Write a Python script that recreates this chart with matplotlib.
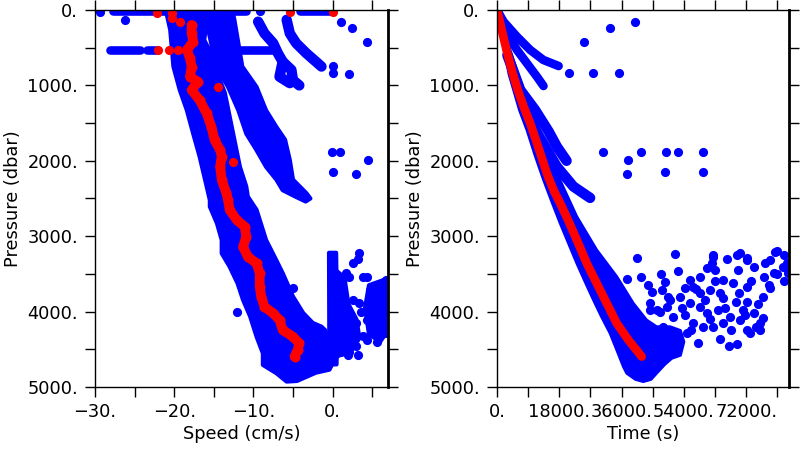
import matplotlib
matplotlib.use('Agg')
import matplotlib.pyplot as plt
from matplotlib.ticker import MultipleLocator, FuncFormatter

plt.rcParams['font.family'] = ['DejaVu Sans']
plt.rcParams['axes.unicode_minus'] = True

BLUE = '#0000ff'
RED = '#ff0000'

# ---------------- Left panel: speed vs pressure ----------------
# dense main band outline (speed cm/s, pressure dbar)
main_band_speed = [-21.0, -20.5, -20.1, -19.3, -18.4, -17.6, -16.8, -15.9, -15.5, -15.5, -14.6, -14.0,
                   -14.0, -13.0, -12.0, -11.3, -10.4, -9.6, -8.8, -8.8, -7.1, -5.8, -4.5, -2.1, -0.4,
                   0.25, -0.9, -1.4, -2.5, -3.7, -5.0, -6.3, -7.1, -8.4, -9.6, -10.7, -10.9, -11.7,
                   -12.4, -13.0, -13.6, -14.7, -15.2, -16.2, -15.8]
main_band_pres = [30, 265, 750, 1060, 1330, 1640, 1940, 2340, 2520, 2608, 2829, 3050,
                  3227, 3404, 3625, 3846, 4067, 4332, 4553, 4707, 4817, 4928, 4920, 4810, 4770,
                  4640, 4250, 4200, 4150, 4020, 3800, 3490, 3320, 3050, 2650, 2475, 2340, 2080,
                  1720, 1410, 1100, 800, 600, 400, 30]
# second (shallower) band outline
band2_speed = [-15.6, -15.6, -14.7, -13.2, -11.9, -10.9, -9.6, -8.4, -7.1, -6.3, -4.6, -3.4, -2.8,
               -3.3, -5.0, -5.4, -6.0, -7.1, -8.4, -9.6, -11.4, -11.9, -12.4, -12.6]
band2_pres = [30, 310, 750, 1020, 1330, 1640, 1860, 2080, 2250, 2390, 2480, 2540, 2500,
              2430, 2250, 1990, 1720, 1550, 1330, 1020, 750, 440, 130, 30]
# third and fourth thin bands
band3_speed = [-9.4, -8.6, -7.5, -6.9, -6.3, -5.2, -5.0, -4.2]
band3_pres = [155, 310, 440, 575, 685, 795, 930, 1000]
band3b_speed = [-6.3, -6.7, -5.4]
band3b_pres = [685, 885, 970]
band4_speed = [-5.8, -5.4, -4.6, -3.3, -2.1, -1.4]
band4_pres = [130, 310, 440, 575, 685, 750]
# near-surface rows
top_row_speed = [-27.7, -10.9]
top_row2_speed = [-4.1, 0.0]
top_row_pres = 20
mid_row_segments = [(-28.1, -24.3), (-23.4, -22.2), (-16.8, -7.5)]
mid_row_pres = 530
# deep near-zero strip and the bottom-right clusters
strip_speed = [-0.45, 0.45, 0.6, 0.5, -0.4]
strip_pres = [3220, 3220, 4300, 4700, 4700]
cluster1_speed = [0.4, 1.5, 2.0, 3.0, 3.4, 2.5, 0.5]
cluster1_pres = [3450, 3550, 3900, 4100, 4350, 4500, 4600]
cluster2_speed = [4.6, 7.0, 7.0, 6.0, 4.6, 4.1]
cluster2_pres = [3650, 3560, 4250, 4400, 4300, 3950]
# scattered blue points
left_pts_speed = [-29.4, -26.2, -9.2, 1.1, 2.4, 4.3, 0.0, 0.0, 2.1, -0.1, 1.0, 4.5, 0.0, 3.0,
                  -5.0, -12.1,
                  0.0, 0.3, 0.9, 1.2, 0.5, 1.3, 2.1, 1.7, 2.6, 3.4, 3.2, 3.8, 3.4, 2.6, 4.7, 4.3,
                  5.9, 6.8, 6.5, 5.5, 6.3, 4.3, 3.0, 2.1, 2.6, 3.8, 5.0, 6.3, 6.6, 2.1, 3.2, 0.9,
                  1.1, 1.9, 5.2, 6.0, 6.8, 4.8, 5.6, 6.9, 4.6, 5.2, 6.1, 4.4, 3.6, 2.9, 1.6]
left_pts_pres = [30, 130, 20, 155, 243, 420, 738, 830, 849, 1883, 1883, 1990, 2150, 2170,
                 3690, 4010,
                 3600, 3700, 3540, 3600, 3850, 3760, 3540, 3490, 3360, 3225, 3300, 3535, 3890, 3850,
                 3710, 3540, 3670, 3580, 3620, 3850, 4020, 4110, 4150, 4240, 4290, 4330, 4290, 4110,
                 4290, 4530, 4570, 4510, 4530, 4575, 3950, 3800, 3900, 4200, 4400, 3700, 3950,
                 4050, 3950, 4380, 4000, 4450, 4100]
# red series (one profile)
red_chain_speed = [-17.8, -17.8, -17.6, -18.4, -18.0, -17.8, -18.0, -17.0, -17.8, -16.8, -15.9, -15.3,
                   -14.9, -14.2, -14.0, -14.2, -14.0, -13.4, -13.2, -13.0, -12.1, -11.1, -10.9, -11.3,
                   -10.7, -9.6, -9.2, -9.2, -9.0, -8.6, -7.5, -6.7, -6.3, -5.0, -4.2, -4.4, -4.8]
red_chain_pres = [199, 310, 420, 530, 641, 752, 885, 951, 1061, 1194, 1370, 1548,
                  1724, 1857, 1945, 2078, 2255, 2431, 2520, 2650, 2785, 2874, 3006, 3140,
                  3272, 3360, 3492, 3670, 3802, 3935, 4023, 4111, 4244, 4333, 4421, 4509, 4598]
red_pts_speed = [-22.2, -20.3, -20.3, -19.3, -22.0, -20.7, -19.5, -14.5, -12.6, -5.4, 0.0]
red_pts_pres = [44, 44, 110, 155, 530, 530, 530, 1017, 2010, 22, 22]

# ---------------- Right panel: time vs pressure ----------------
main2_time = [0, 1000, 2200, 3500, 4800, 6500, 8640, 11000, 13450, 15800, 18250, 20700, 23050,
              25500, 27850, 30200, 32650, 34600, 36500, 37460, 40000, 42260,
              44500, 46100, 48500, 50500, 53000, 54000, 53000, 50000, 46100,
              43200, 39380, 34600, 28800, 23050, 17300, 11500, 8000, 5000, 2500, 800]
main2_pres = [0, 270, 560, 860, 1061, 1330, 1591, 1930, 2254, 2540, 2829, 3100, 3359,
              3610, 3845, 4070, 4287, 4510, 4730, 4818, 4900, 4929,
              4900, 4818, 4700, 4620, 4580, 4400, 4250, 4200, 4200,
              4111, 3890, 3536, 3182, 2740, 2166, 1503, 1100, 700, 350, 60]
branchA_time = [0, 1900, 5770, 9600, 13400, 17800]
branchA_pres = [0, 155, 354, 530, 663, 743]
branchB_time = [0, 2880, 5770, 8650, 11530, 13430]
branchB_pres = [0, 310, 530, 707, 884, 1008]
branchC_time = [3000, 6720, 11000, 14900, 17300, 20100]
branchC_pres = [600, 1061, 1326, 1610, 1813, 2000]
branchD_time = [6000, 10570, 14400, 17290, 22090, 26900]
branchD_pres = [1000, 1547, 1850, 2078, 2342, 2492]
red2_time = [0, 1400, 2900, 4400, 6000, 7700, 9600, 12000, 14400, 16330, 18730, 20940, 23050,
             25930, 28800, 31700, 34600, 37940, 41800]
red2_pres = [0, 270, 560, 820, 1061, 1282, 1503, 1830, 2166, 2387, 2608, 2829, 3050,
             3359, 3624, 3890, 4155, 4376, 4597]
right_pts_time = [20900, 25200, 27800, 32700, 35300, 39900, 30700, 37900, 37600, 41700, 48900, 48600,
                  52400, 59600, 59600,
                  40500, 37600, 41700, 51500, 52400, 43700, 44800, 48600, 47700, 44300, 44300, 50100,
                  53000, 55800, 58700, 60800, 62500, 63100, 65400, 69400, 72300, 74100, 69700, 80400,
                  82800, 82500, 79900, 77000, 79000, 76700, 72300, 68300, 65400, 68900, 72300, 71200,
                  74100, 76700, 74700, 70300, 67400, 63700, 60800, 58700, 55800, 54400, 56700, 59600,
                  62500, 65400, 64500, 69200, 58200, 72300, 49200, 50900, 48000, 46300, 58700, 61600,
                  64500, 54400, 56700, 79000, 83900, 84200, 62400, 70200, 72200, 80800, 83700, 75900,
                  73100, 54800,
                  47000, 49500, 51000, 53500, 56000, 57500, 60000, 61500, 63000, 66000, 67500, 70000,
                  71500, 73500, 75500, 77500, 78500, 81000, 83000, 47500, 62000, 66500, 76000, 67000]
right_pts_pres = [840, 420, 840, 240, 840, 160, 1880, 1990, 2170, 1880, 1880, 2150,
                  1880, 1880, 2150,
                  3290, 3570, 3540, 3240, 3460, 3650, 3740, 3610, 3710, 3890, 3980, 3850,
                  3800, 3580, 3540, 3420, 3250, 3450, 3580, 3250, 3320, 3410, 3450, 3210,
                  3250, 3410, 3490, 3540, 3690, 3800, 3670, 3620, 3820, 3870, 3870, 3980,
                  4020, 4080, 4200, 4110, 4070, 3980, 4020, 3940, 3890, 4050, 4150, 4200,
                  4200, 4150, 4360, 4430, 4420, 4240, 3940, 4070, 4200, 3980, 3750, 3710,
                  3750, 3690, 3670, 3320, 3360, 3490, 3270, 3225, 3290, 3200, 3400, 4240,
                  4290, 4290,
                  4000, 3800, 4300, 3950, 4250, 3700, 3850, 4100, 3600, 3950, 4250, 3750,
                  4050, 3600, 3900, 3350, 3650, 3500, 3600, 3500, 3350, 3300, 4150, 4450]

# ---------------- Figure ----------------
fig = plt.figure(figsize=(8, 4.5), dpi=100)
ax1 = fig.add_axes([0.11875, 0.14, 0.36625, 0.8378])
ax2 = fig.add_axes([0.62125, 0.14, 0.365, 0.8378])

MS = 6.6
LW = 6.2

def fmt(v, pos):
    s = f"{abs(v):.0f}."
    return ('\u2212' + s) if v < 0 else s

# Left panel drawing
for xs, ps in [(main_band_speed, main_band_pres), (band2_speed, band2_pres),
               (strip_speed, strip_pres), (cluster1_speed, cluster1_pres),
               (cluster2_speed, cluster2_pres)]:
    ax1.fill(xs, ps, color=BLUE, lw=3, joinstyle='round')
for xs, ps in [(band3_speed, band3_pres), (band3b_speed, band3b_pres), (band4_speed, band4_pres)]:
    ax1.plot(xs, ps, color=BLUE, lw=7.5, solid_capstyle='round', solid_joinstyle='round')
ax1.plot(top_row_speed, [top_row_pres] * 2, color=BLUE, lw=LW, solid_capstyle='round')
ax1.plot(top_row2_speed, [top_row_pres] * 2, color=BLUE, lw=LW, solid_capstyle='round')
for a, b in mid_row_segments:
    ax1.plot([a, b], [mid_row_pres] * 2, color=BLUE, lw=LW, solid_capstyle='round')
ax1.plot(left_pts_speed, left_pts_pres, 'o', color=BLUE, ms=MS, mec='none')
ax1.plot(red_chain_speed, red_chain_pres, '-o', color=RED, lw=7, ms=MS + 0.6, mec='none',
         solid_capstyle='round', solid_joinstyle='round')
ax1.plot(red_pts_speed, red_pts_pres, 'o', color=RED, ms=MS, mec='none')

ax1.set_xlim(-30, 7)
ax1.xaxis.set_major_locator(MultipleLocator(10))
ax1.xaxis.set_minor_locator(MultipleLocator(5))
ax1.set_xlabel('Speed (cm/s)', fontsize=12.8, labelpad=3)

# Right panel drawing
ax2.fill(main2_time, main2_pres, color=BLUE, lw=2, joinstyle='round')
for ts, ps, w in [(branchA_time, branchA_pres, LW), (branchB_time, branchB_pres, LW),
                  (branchC_time, branchC_pres, 7.5), (branchD_time, branchD_pres, 7.5)]:
    ax2.plot(ts, ps, color=BLUE, lw=w, solid_capstyle='round', solid_joinstyle='round')
ax2.plot(right_pts_time, right_pts_pres, 'o', color=BLUE, ms=MS, mec='none')
ax2.plot(red2_time, red2_pres, '-', color=RED, lw=LW, solid_capstyle='round', solid_joinstyle='round')

ax2.set_xlim(0, 84350)
ax2.xaxis.set_major_locator(MultipleLocator(18000))
ax2.xaxis.set_minor_locator(MultipleLocator(9000))
ax2.set_xlabel('Time (s)', fontsize=12.8, labelpad=3)

for ax in (ax1, ax2):
    ax.set_ylim(5000, 0)
    ax.yaxis.set_major_locator(MultipleLocator(1000))
    ax.yaxis.set_minor_locator(MultipleLocator(500))
    ax.xaxis.set_major_formatter(FuncFormatter(fmt))
    ax.yaxis.set_major_formatter(FuncFormatter(fmt))
    ax.tick_params(which='both', direction='out', length=7.2, width=1.0,
                   top=True, right=True, labelsize=12.8, colors='black')
    ax.tick_params(axis='x', pad=4)
    ax.tick_params(axis='y', pad=5)
    for side in ax.spines.values():
        side.set_linewidth(1.0)
    ax.spines['right'].set_linewidth(2.0)
    ax.set_ylabel('Pressure (dbar)', fontsize=12.8, labelpad=4)

fig.savefig('out.png', dpi=100)
